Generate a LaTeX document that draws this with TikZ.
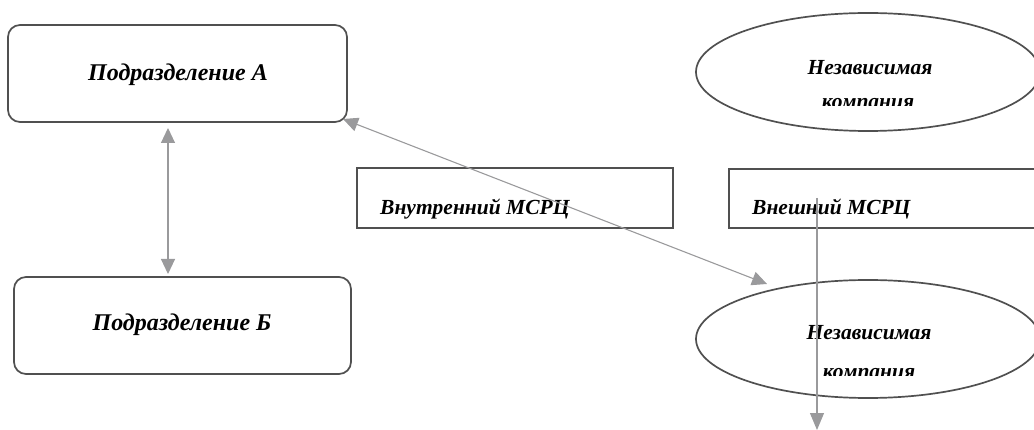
\documentclass[tikz,border=0pt]{standalone}
\usepackage{fontspec}
\setmainfont{Liberation Serif}
\usetikzlibrary{arrows.meta,shapes.geometric}
\definecolor{edge}{HTML}{505050}
\definecolor{link}{HTML}{9A9A9C}
\begin{document}
\begin{tikzpicture}[x=1pt,y=-1pt,
  lbl/.style={font=\fontsize{21.5}{24}\selectfont\bfseries\itshape, inner sep=0pt, anchor=base},
  biglbl/.style={lbl, font=\fontsize{24}{26}\selectfont\bfseries\itshape},
  unit/.style={draw=edge, line width=1.7pt, rounded corners=12pt},
  market/.style={draw=edge, line width=1.7pt},
  firm/.style={draw=edge, line width=1.7pt, ellipse, minimum width=344pt, minimum height=118pt, inner sep=0pt},
  link/.style={draw=link, line width=1.1pt, {Triangle[length=15pt,width=14pt]}-{Triangle[length=15pt,width=14pt]}},
  linkone/.style={draw=link, line width=1.1pt, -{Triangle[length=17pt,width=14pt]}}]
\useasboundingbox (0,0) rectangle (1034,430);

% divisions
\draw[unit] (8,25) rectangle (347,122);
\node[biglbl] (A) at (178,81) {Подразделение А};
\draw[unit] (14,277) rectangle (351,374);
\node[biglbl] (B) at (182,331) {Подразделение Б};

% market price boxes
\draw[market] (357,168) rectangle (673,228);
\node[lbl, anchor=base west] (inner) at (380,215) {Внутренний МСРЦ};
\draw[market] (729,169) rectangle (1040,228);
\node[lbl, anchor=base west] (outer) at (752,215) {Внешний МСРЦ};

% independent companies
\node[firm] (top) at (868,72) {};
\node[firm] (bot) at (868,339) {};
\node[lbl] (topname) at (870,75) {Независимая};
\node[lbl] (botname) at (869,340) {Независимая};
\begin{scope}
  \clip (700,0) rectangle (1034,106);
  \node[lbl] (topword) at (868,109) {компания};
\end{scope}
\begin{scope}
  \clip (700,300) rectangle (1034,376);
  \node[lbl] (botword) at (869,379) {компания};
\end{scope}

% connectors
\coordinate (ab1) at (168,128);
\coordinate (ab2) at (168,274);
\coordinate (d1) at (343,119);
\coordinate (d2) at (767,284);
\coordinate (v1) at (817,198);
\coordinate (v2) at (817,430);
\draw[link] (ab1) -- (ab2);
\draw[link] (d1) -- (d2);
\draw[linkone] (v1) -- (v2);
\end{tikzpicture}
\end{document}
